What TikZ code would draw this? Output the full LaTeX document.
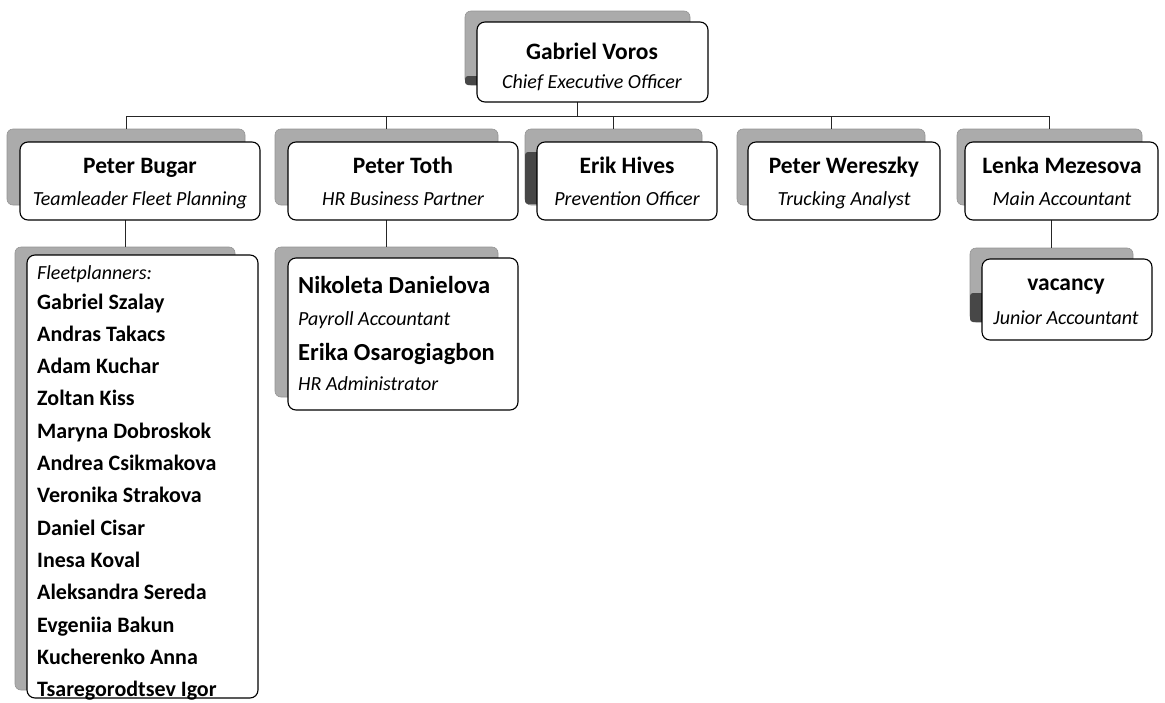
\documentclass[tikz,border=0pt]{standalone}
\usepackage{fontspec}
\setmainfont{Carlito}
\newcommand\shbox[5]{\node[shade, minimum width={#4pt-#2pt}, minimum height={#5pt-#3pt}] (#1) at ({(#2+#4)/2},{(#3+#5)/2}) {};}
\newcommand\frbox[5]{\node[front, minimum width={#4pt-#2pt}, minimum height={#5pt-#3pt}] (#1) at ({(#2+#4)/2},{(#3+#5)/2}) {};}
\begin{document}
\begin{tikzpicture}[x=1pt,y=-1pt,
  front/.style={draw=black, line width=1.1pt, fill=white, rounded corners=8pt, inner sep=0pt, outer sep=0pt},
  shade/.style={fill=black!33, draw=black!42, line width=0.6pt, rounded corners=6pt, inner sep=0pt, outer sep=0pt},
  darkstrip/.style={fill=black!72, rounded corners=3pt},
  conn/.style={draw=black!85, line width=1pt},
  nm/.style={inner sep=0pt, anchor=base, font=\bfseries\fontsize{23.5}{26}\selectfont},
  tt/.style={inner sep=0pt, anchor=base, font=\itshape\fontsize{20}{22}\selectfont},
  lst/.style={inner sep=0pt, anchor=base west, font=\bfseries\fontsize{22}{24}\selectfont},
  big/.style={inner sep=0pt, anchor=base west, font=\bfseries\fontsize{24.5}{27}\selectfont},
  ttl/.style={inner sep=0pt, anchor=base west, font=\itshape\fontsize{20}{22}\selectfont},
]
\useasboundingbox[fill=white] (0,0) rectangle (1165,702);
\coordinate (busy) at (0,116);

% shadows
\shbox{ceoS}{465}{11}{690}{85}
\shbox{bugS}{7}{129}{245}{205}
\shbox{totS}{275}{129}{498}{205}
\shbox{eriS}{525}{129}{702}{205}
\shbox{werS}{737}{129}{925}{205}
\shbox{lenS}{957}{129}{1142}{205}
\shbox{fltS}{15}{247}{235}{690}
\shbox{tchS}{275}{247}{498}{397}
\shbox{vacS}{970}{248}{1133}{322}
\fill[darkstrip] (465,76) rectangle (480,85);
\fill[darkstrip] (525,152) rectangle (540,204);
\fill[darkstrip] (970,293) rectangle (985,322);

% connectors
\draw[conn] (ceoS.north |- 0,102) -- (ceoS.north |- busy);
\draw[conn] (bugS.north |- busy) -- (lenS.north |- busy);
\foreach \s in {bugS,totS,eriS,werS,lenS} \draw[conn] (\s.north |- busy) -- (\s.north);
\draw[conn] (fltS.north |- 0,220) -- (fltS.north);
\draw[conn] (tchS.north |- 0,220) -- (tchS.north);
\draw[conn] (vacS.north |- 0,220) -- (vacS.north);

% fronts
\frbox{ceo}{477}{22}{708}{102}
\frbox{bug}{20}{142}{260}{220}
\frbox{tot}{288}{142}{518}{220}
\frbox{eri}{537}{142}{717}{220}
\frbox{wer}{748}{142}{940}{220}
\frbox{len}{965}{142}{1158}{220}
\frbox{flt}{27}{255}{258}{698}
\frbox{tch}{288}{258}{518}{410}
\frbox{vac}{982}{259}{1152}{340}

% texts
\node[nm] (ceoN) at (592,59) {Gabriel Voros};
\node[tt] (ceoT) at (592,88) {Chief Executive Officer};
\node[nm] (bugN) at (140,173) {Peter Bugar};
\node[tt] (bugT) at (140,205) {Teamleader Fleet Planning};
\node[nm] (totN) at (403,173) {Peter Toth};
\node[tt] (totT) at (403,205) {HR Business Partner};
\node[nm] (eriN) at (627,173) {Erik Hives};
\node[tt] (eriT) at (627,205) {Prevention Officer};
\node[nm] (werN) at (844,173) {Peter Wereszky};
\node[tt] (werT) at (844,205) {Trucking Analyst};
\node[nm] (lenN) at (1062,173) {Lenka Mezesova};
\node[tt] (lenT) at (1062,205) {Main Accountant};
\node[nm] (vacN) at (1066,290) {vacancy};
\node[tt] (vacT) at (1066,324) {Junior Accountant};

\node[big] (n1) at (298,293) {Nikoleta Danielova};
\node[ttl] (n2) at (298,325) {Payroll Accountant};
\node[big] (n3) at (298,360) {Erika Osarogiagbon};
\node[ttl] (n4) at (298,390) {HR Administrator};

\node[ttl] (fl0) at (37,279) {Fleetplanners:};
\foreach \t [count=\k from 0] in {Gabriel Szalay,Andras Takacs,Adam Kuchar,Zoltan Kiss,Maryna Dobroskok,Andrea Csikmakova,Veronika Strakova,Daniel Cisar,Inesa Koval,Aleksandra Sereda,Evgeniia Bakun,Kucherenko Anna,Tsaregorodtsev Igor}
  \node[lst] (fl\k) at (37,{309+32.33*\k}) {\t};
\end{tikzpicture}
\end{document}
